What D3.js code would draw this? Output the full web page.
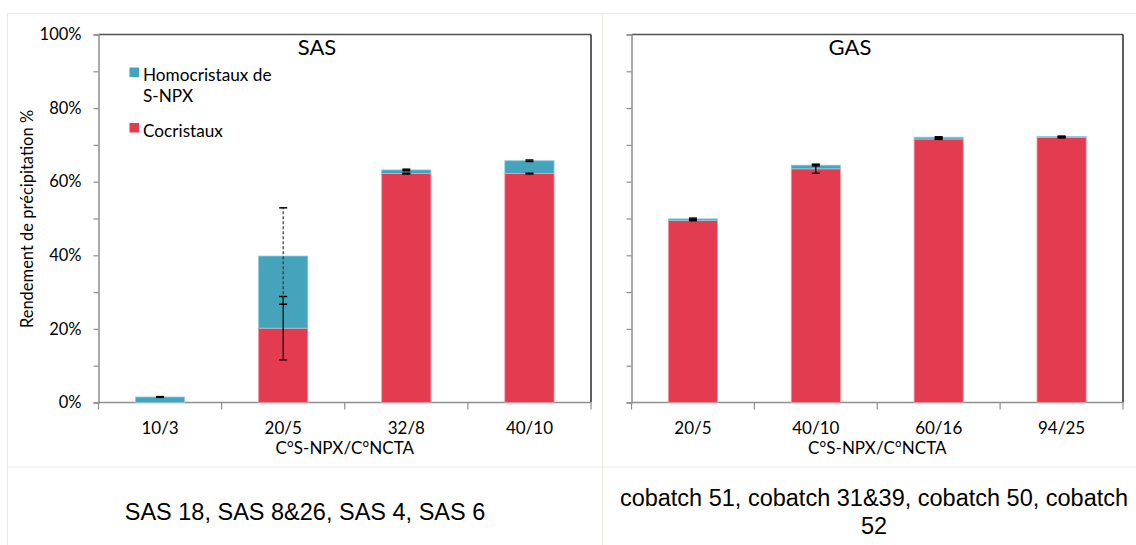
<!DOCTYPE html>
<html><head><meta charset="utf-8">
<script src="https://cdn.jsdelivr.net/npm/d3@7"></script>
<style>
html,body{margin:0;padding:0;background:#fff;}
svg{display:block;}
</style></head>
<body>
<svg id="chart" width="1136" height="545"></svg>
<script>
// ---- data ----
const seriesNames = ["Homocristaux de S-NPX", "Cocristaux"];
const sasTitle = "SAS";
const gasTitle = "GAS";
const sasCategories = ["10/3", "20/5", "32/8", "40/10"];
const sasCocristaux = [0, 20.2, 62.2, 62.2];
const sasHomo = [1.5, 19.6, 1.0, 3.5];
const sasCocErr = [0, 8.6, 0.1, 0.1];
const sasHomoErr = [0.1, 13.1, 0.2, 0.2];
const gasCategories = ["20/5", "40/10", "60/16", "94/25"];
const gasCocristaux = [49.5, 63.5, 71.6, 72.0];
const gasHomo = [0.4, 1.0, 0.5, 0.3];
const gasCocErr = [0.1, 1.2, 0.1, 0.1];
const gasHomoErr = [0.2, 0.2, 0.1, 0.1];
const yTickValues = [0, 10, 20, 30, 40, 50, 60, 70, 80, 90, 100];
const yLabelValues = [0, 20, 40, 60, 80, 100];
const xTitle = "C°S-NPX/C°NCTA";
const yTitle = "Rendement de précipitation %";
const sasRuns = "SAS 18, SAS 8&26, SAS 4, SAS 6";
const gasRunsLines = ["cobatch 51, cobatch 31&39, cobatch 50, cobatch", "52"];

// ---- style ----
const BLUE = "#45a3bb", RED = "#e33c50";
const BLUE_EDGE = "#8fcddc", RED_EDGE = "#f09aa4";
const FONT = "Lato, 'Open Sans', sans-serif";
const GRID = "#e9e9e1";

const svg = d3.select("#chart");

// table lines
svg.append("line").attr("x1", 7).attr("x2", 1136).attr("y1", 13.5).attr("y2", 13.5).attr("stroke", GRID);
svg.append("line").attr("x1", 7.5).attr("x2", 7.5).attr("y1", 13).attr("y2", 545).attr("stroke", GRID);
svg.append("line").attr("x1", 602.5).attr("x2", 602.5).attr("y1", 13).attr("y2", 545).attr("stroke", GRID);
svg.append("line").attr("x1", 7).attr("x2", 1136).attr("y1", 467).attr("y2", 467).attr("stroke", GRID);

function drawPanel(cfg) {
  const left = cfg.left, right = cfg.right, top = 34.5, bottom = 402.5;
  const g = svg.append("g");
  const x = d3.scaleBand().domain(cfg.categories).range([left, right]).paddingInner(0.6).paddingOuter(0.3);
  const y = d3.scaleLinear().domain([0, 100]).range([bottom, top]);
  const step = x.step();

  // frame top/right
  g.append("line").attr("x1", left).attr("x2", right).attr("y1", top).attr("y2", top).attr("stroke", "#505050").attr("stroke-width", 1.5);
  g.append("line").attr("x1", right).attr("x2", right).attr("y1", top).attr("y2", bottom).attr("stroke", "#2a2a2a").attr("stroke-width", 1.5);

  // y axis
  const yAxis = d3.axisLeft(y).tickValues(yTickValues).tickSize(5).tickPadding(12)
    .tickFormat(d => (cfg.showYLabels && yLabelValues.includes(d)) ? d + "%" : "");
  const ya = g.append("g").attr("transform", `translate(${left},0)`).call(yAxis);
  ya.select(".domain").attr("stroke", "#8f8f8f").attr("stroke-width", 1.5);
  ya.selectAll(".tick line").attr("stroke", "#8f8f8f").attr("stroke-width", 1.2);
  ya.selectAll("text").attr("font-family", FONT).attr("font-size", 16.5).attr("fill", "#000");

  // x axis (ticks at category boundaries)
  const xb = g.append("g");
  xb.append("line").attr("x1", left).attr("x2", right).attr("y1", bottom).attr("y2", bottom).attr("stroke", "#8f8f8f").attr("stroke-width", 1.5);
  const bounds = d3.range(cfg.categories.length + 1).map(i => left + i * step);
  xb.selectAll("line.tk").data(bounds).join("line").attr("class", "tk")
    .attr("x1", d => d).attr("x2", d => d).attr("y1", bottom).attr("y2", bottom + 7)
    .attr("stroke", "#8f8f8f").attr("stroke-width", 1.2);
  xb.selectAll("text.cat").data(cfg.categories).join("text").attr("class", "cat")
    .attr("x", d => x(d) + x.bandwidth() / 2).attr("y", 434)
    .attr("text-anchor", "middle").attr("font-family", FONT).attr("font-size", 17).attr("fill", "#000")
    .text(d => d);

  // bars
  const rows = cfg.categories.map((c, i) => ({
    c, coc: cfg.coc[i], homo: cfg.homo[i], cocErr: cfg.cocErr[i], homoErr: cfg.homoErr[i]
  }));
  g.selectAll("rect.coc").data(rows.filter(d => d.coc > 0)).join("rect").attr("class", "coc")
    .attr("x", d => x(d.c)).attr("width", x.bandwidth())
    .attr("y", d => y(d.coc)).attr("height", d => y(0) - y(d.coc))
    .attr("fill", RED).attr("stroke", RED_EDGE).attr("stroke-width", 0.8);
  g.selectAll("rect.homo").data(rows.filter(d => d.homo > 0)).join("rect").attr("class", "homo")
    .attr("x", d => x(d.c)).attr("width", x.bandwidth())
    .attr("y", d => y(d.coc + d.homo)).attr("height", d => y(d.coc) - y(d.coc + d.homo))
    .attr("fill", BLUE).attr("stroke", BLUE_EDGE).attr("stroke-width", 0.8);

  // error bars
  function errBar(sel, cls, getC, getE, dashed) {
    const data = rows.filter(d => getE(d) > 0);
    const cx = d => x(d.c) + x.bandwidth() / 2;
    sel.selectAll("line." + cls + "v").data(data).join("line").attr("class", cls + "v")
      .attr("x1", cx).attr("x2", cx)
      .attr("y1", d => y(getC(d) - getE(d))).attr("y2", d => y(getC(d) + getE(d)))
      .attr("stroke", dashed ? "#333" : "#000").attr("stroke-width", 1.2)
      .attr("stroke-dasharray", dashed ? "3,2" : null);
    [-1, 1].forEach(s => {
      sel.selectAll("line." + cls + "c" + (s > 0 ? "p" : "m")).data(data).join("line").attr("class", cls + "c" + (s > 0 ? "p" : "m"))
        .attr("x1", d => cx(d) - 4).attr("x2", d => cx(d) + 4)
        .attr("y1", d => y(getC(d) + s * getE(d))).attr("y2", d => y(getC(d) + s * getE(d)))
        .attr("stroke", "#000").attr("stroke-width", 1.5);
    });
  }
  errBar(g, "ec", d => d.coc, d => d.cocErr, false);
  errBar(g, "eh", d => d.coc + d.homo, d => d.homoErr, true);

  // title
  g.append("text").attr("x", cfg.titleX).attr("y", 55).attr("text-anchor", "middle")
    .attr("font-family", FONT).attr("font-size", 22).attr("fill", "#000").text(cfg.title);

  // x title
  g.append("text").attr("x", (left + right) / 2).attr("y", 454).attr("text-anchor", "middle")
    .attr("font-family", FONT).attr("font-size", 17).attr("fill", "#000").text(xTitle);

  return { x, y };
}

drawPanel({ left: 98.5, right: 591, categories: sasCategories, coc: sasCocristaux, homo: sasHomo,
  cocErr: sasCocErr, homoErr: sasHomoErr, title: sasTitle, titleX: 317, showYLabels: true });
drawPanel({ left: 631.5, right: 1123, categories: gasCategories, coc: gasCocristaux, homo: gasHomo,
  cocErr: gasCocErr, homoErr: gasHomoErr, title: gasTitle, titleX: 850, showYLabels: false });

// y title
svg.append("text").attr("transform", "translate(33,219) rotate(-90)").attr("text-anchor", "middle")
  .attr("font-family", FONT).attr("font-size", 16.5).attr("fill", "#000").text(yTitle);

// legend
const legend = svg.append("g");
const legendItems = [
  { name: seriesNames[0], color: BLUE, lines: ["Homocristaux de", "S-NPX"], sq: 67.5 },
  { name: seriesNames[1], color: RED, lines: ["Cocristaux"], sq: 123 }
];
legendItems.forEach(it => {
  legend.append("rect").attr("x", 129.5).attr("y", it.sq).attr("width", 9.5).attr("height", 9.5).attr("fill", it.color);
  it.lines.forEach((l, i) => {
    legend.append("text").attr("x", 143).attr("y", it.sq + 13.5 + i * 20.7)
      .attr("font-family", FONT).attr("font-size", 17.2).attr("fill", "#000").text(l);
  });
});

// bottom cells
svg.append("text").attr("x", 305).attr("y", 519.5).attr("text-anchor", "middle")
  .attr("font-family", "'Liberation Sans', Arial, sans-serif").attr("font-size", 23.5).attr("fill", "#000").text(sasRuns);
gasRunsLines.forEach((l, i) => {
  svg.append("text").attr("x", 874).attr("y", 505.5 + i * 28).attr("text-anchor", "middle")
    .attr("font-family", "'Liberation Sans', Arial, sans-serif").attr("font-size", 23.5).attr("fill", "#000").text(l);
});
</script>
</body></html>
